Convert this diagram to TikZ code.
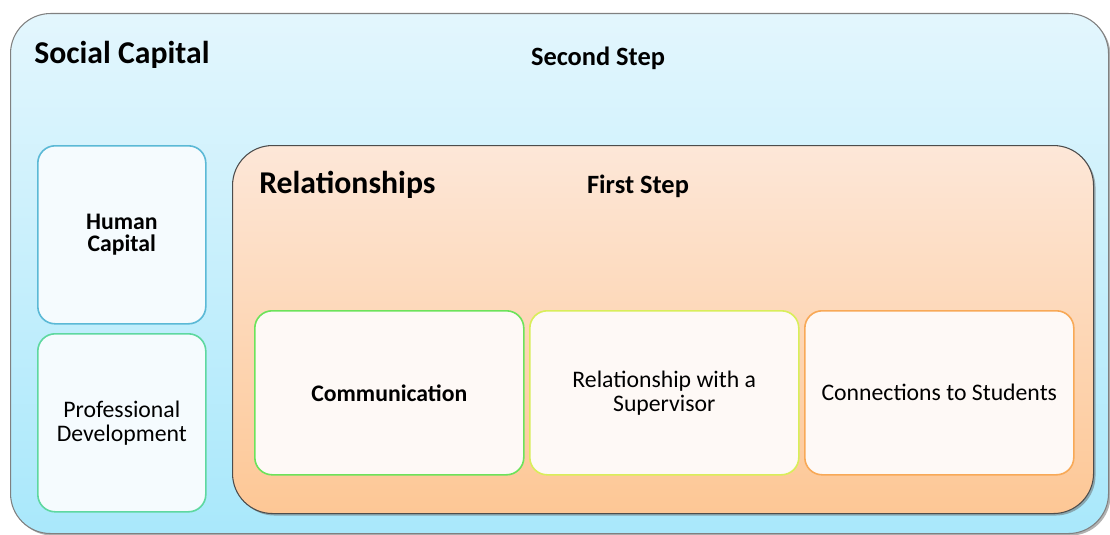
\documentclass[tikz,border=0pt]{standalone}
\usepackage{fontspec}
\setmainfont{Carlito}
\usetikzlibrary{shadows}
\definecolor{outertop}{HTML}{E3F6FD}
\definecolor{outerbot}{HTML}{A9E8FB}
\definecolor{reltop}{HTML}{FDE7D8}
\definecolor{relbot}{HTML}{FDC795}
\definecolor{boxfill}{HTML}{FEF9F6}
\definecolor{leftfill}{HTML}{F5FBFE}
\definecolor{bgreen}{HTML}{6CE35A}
\definecolor{byellow}{HTML}{D9EE5A}
\definecolor{borange}{HTML}{F8A957}
\definecolor{bblue}{HTML}{5BB9D6}
\definecolor{bteal}{HTML}{5ED8A0}
\tikzset{
  x=0.75pt, y=-0.75pt,
  bigbox/.style={rounded corners=30pt, line width=0.8pt,
    drop shadow={shadow xshift=1.5pt, shadow yshift=-1.5pt, opacity=0.5, fill=black!60}},
  innerbox/.style={draw, rounded corners=13pt, line width=1.2pt, fill=boxfill, inner sep=0pt, align=center},
  leftbox/.style={draw, rounded corners=13pt, line width=1.2pt, fill=leftfill, inner sep=0pt, align=center},
  bigtitle/.style={font=\bfseries\fontsize{23.8}{28}\selectfont, anchor=west, inner sep=0pt},
  steptitle/.style={font=\bfseries\fontsize{19.8}{23}\selectfont, anchor=center, inner sep=0pt},
  regtext/.style={font=\fontsize{17.8}{18}\selectfont},
  boldtext/.style={font=\bfseries\fontsize{17.8}{16.5}\selectfont},
}
\begin{document}
\begin{tikzpicture}
\useasboundingbox (0,0) rectangle (1110,535);
% outer box
\node[bigbox, draw=black!50, top color=outertop, bottom color=outerbot,
  minimum width=1098*0.75pt, minimum height=520*0.75pt, anchor=north west, inner sep=0pt] (outer) at (10,13) {};
\node[bigtitle] (social) at (34,55) {Social Capital};
\node[steptitle] (second) at (598,58) {Second Step};
% left boxes
\node[leftbox, draw=bblue, minimum width=168*0.75pt, minimum height=178*0.75pt, anchor=north west,
  boldtext] (human) at (37,145) {Human\\Capital};
\node[leftbox, draw=bteal, minimum width=168*0.75pt, minimum height=178*0.75pt, anchor=north west,
  regtext] (prof) at (37,333) {Professional\\Development};
% relationships box
\node[bigbox, draw=black!70, top color=reltop, bottom color=relbot,
  minimum width=861*0.75pt, minimum height=368*0.75pt, anchor=north west, inner sep=0pt] (rel) at (232,145) {};
\node[bigtitle] (reltitle) at (259,185) {Relationships};
\node[steptitle] (first) at (638,186) {First Step};
% inner boxes
\node[innerbox, draw=bgreen, minimum width=269*0.75pt, minimum height=164*0.75pt, anchor=north west,
  boldtext] (comm) at (254,310) {Communication};
\node[innerbox, draw=byellow, minimum width=269*0.75pt, minimum height=164*0.75pt, anchor=north west,
  regtext] (sup) at (529,310) {Relationship with a\\Supervisor};
\node[innerbox, draw=borange, minimum width=269*0.75pt, minimum height=164*0.75pt, anchor=north west,
  regtext] (stud) at (804,310) {Connections to Students};
\end{tikzpicture}
\end{document}
